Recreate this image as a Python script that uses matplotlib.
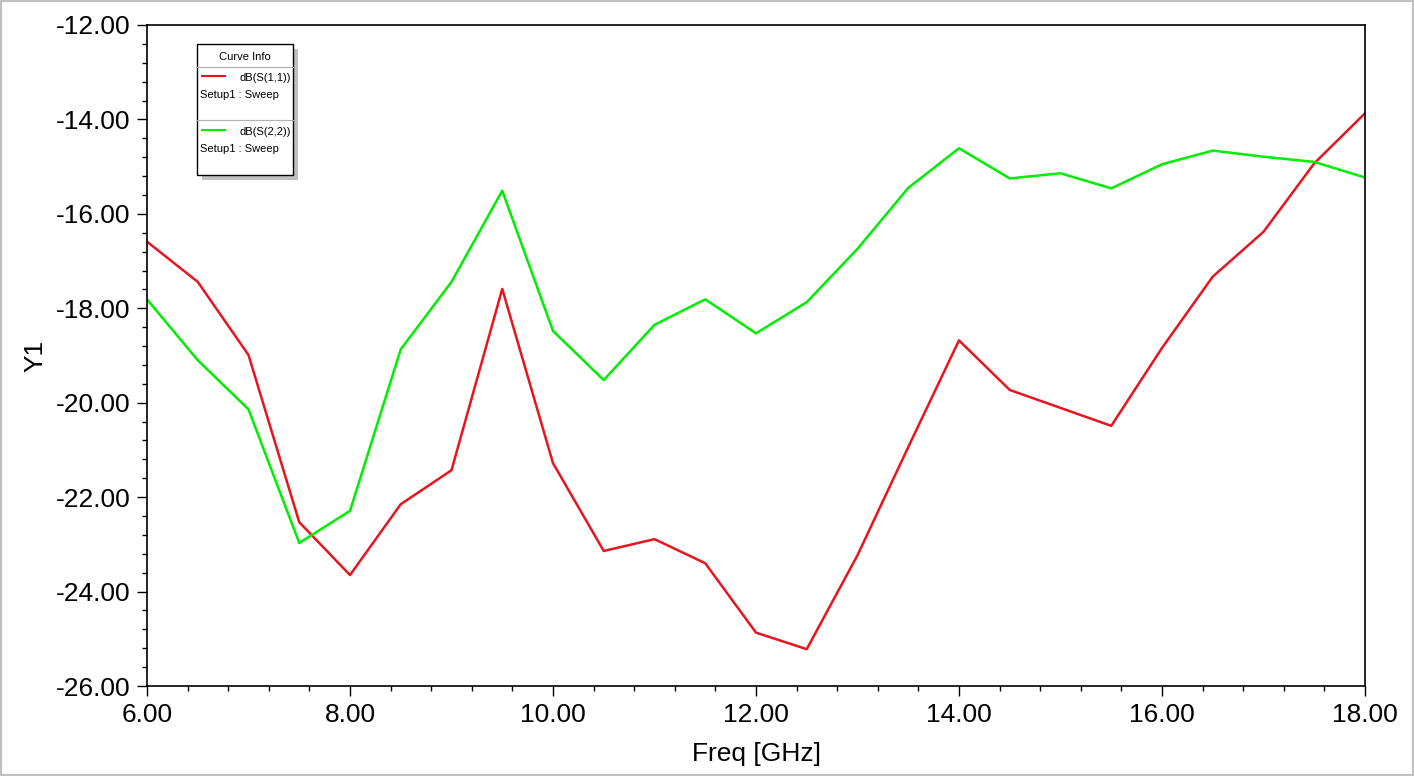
import numpy as np
import matplotlib
matplotlib.use("Agg")
import matplotlib.pyplot as plt
from matplotlib.patches import Rectangle
from matplotlib.lines import Line2D
from matplotlib.ticker import MultipleLocator, FormatStrFormatter

plt.rcParams['font.family'] = ['Liberation Sans', 'DejaVu Sans']

# frequency sweep, GHz
freq = np.arange(6.0, 18.01, 0.5)
# dB(S(1,1))
s11 = [-16.59, -17.44, -18.99, -22.53, -23.65, -22.15, -21.43, -17.59, -21.28,
       -23.14, -22.89, -23.40, -24.87, -25.22, -23.23, -20.94, -18.68, -19.73,
       -20.11, -20.49, -18.84, -17.33, -16.38, -14.93, -13.87]
# dB(S(2,2))
s22 = [-17.81, -19.10, -20.14, -22.97, -22.29, -18.87, -17.44, -15.51, -18.48,
       -19.52, -18.35, -17.81, -18.53, -17.87, -16.74, -15.45, -14.61, -15.25,
       -15.14, -15.46, -14.95, -14.66, -14.79, -14.90, -15.23]

names = ['dB(S(1,1))', 'dB(S(2,2))']
setup = 'Setup1 : Sweep'
red = '#e8141e'
green = '#00ee00'

W, H = 1414, 776
fig = plt.figure(figsize=(W / 100, H / 100), dpi=100)
ax = fig.add_axes([147 / W, 1 - 686 / H, (1365 - 147) / W, (686 - 25) / H])

ax.plot(freq, s11, color=red, lw=1.8)
ax.plot(freq, s22, color=green, lw=1.8)

ax.set_xlim(6, 18)
ax.set_ylim(-26, -12)
ax.xaxis.set_major_locator(MultipleLocator(2))
ax.xaxis.set_minor_locator(MultipleLocator(0.4))
ax.yaxis.set_major_locator(MultipleLocator(2))
ax.yaxis.set_minor_locator(MultipleLocator(0.4))
ax.xaxis.set_major_formatter(FormatStrFormatter('%.2f'))
ax.yaxis.set_major_formatter(FormatStrFormatter('%.2f'))
ax.tick_params(which='major', direction='out', length=7, width=1, labelsize=19, pad=5)
ax.tick_params(which='minor', direction='out', length=3.5, width=1)
ax.tick_params(top=False, right=False)
for s in ax.spines.values():
    s.set_linewidth(1.2)

ax.set_xlabel('Freq [GHz]', fontsize=19, labelpad=11)
ax.set_ylabel('Y1', fontsize=19, labelpad=6)

# "Curve Info" box, pixel helpers
def fx(px):
    return px / W

def fy(py):
    return 1 - py / H

x0, x1, y0, y1 = 197, 293, 44, 175
fig.patches.append(Rectangle((fx(x0 + 5), fy(y1 + 5)), fx(x1 - x0), (y1 - y0) / H,
                             transform=fig.transFigure, facecolor='#c0c0c0', edgecolor='none'))
fig.patches.append(Rectangle((fx(x0), fy(y1)), fx(x1 - x0), (y1 - y0) / H,
                             transform=fig.transFigure, facecolor='white', edgecolor='black', lw=1))
fig.text(fx((x0 + x1) / 2), fy(57), 'Curve Info', fontsize=8, ha='center', va='center')
for sep in [67, 120]:
    fig.lines.append(Line2D([fx(x0), fx(x1)], [fy(sep), fy(sep)], transform=fig.transFigure,
                            color='#b0b0b0', lw=0.8))
for i, (name, col) in enumerate(zip(names, [red, green])):
    yb = 76 + i * 54
    fig.lines.append(Line2D([fx(202), fx(225)], [fy(yb), fy(yb)], transform=fig.transFigure,
                            color=col, lw=1.5))
    fig.text(fx(291), fy(yb + 2), name, fontsize=8, ha='right', va='center')
    fig.text(fx(200), fy(yb + 19), setup, fontsize=8, ha='left', va='center')

# outer gray frame
fig.patches.append(Rectangle((0, 0), 1, 1, transform=fig.transFigure, facecolor='none',
                             edgecolor='#c0c0c0', lw=3))

fig.savefig('out.png', dpi=100)
